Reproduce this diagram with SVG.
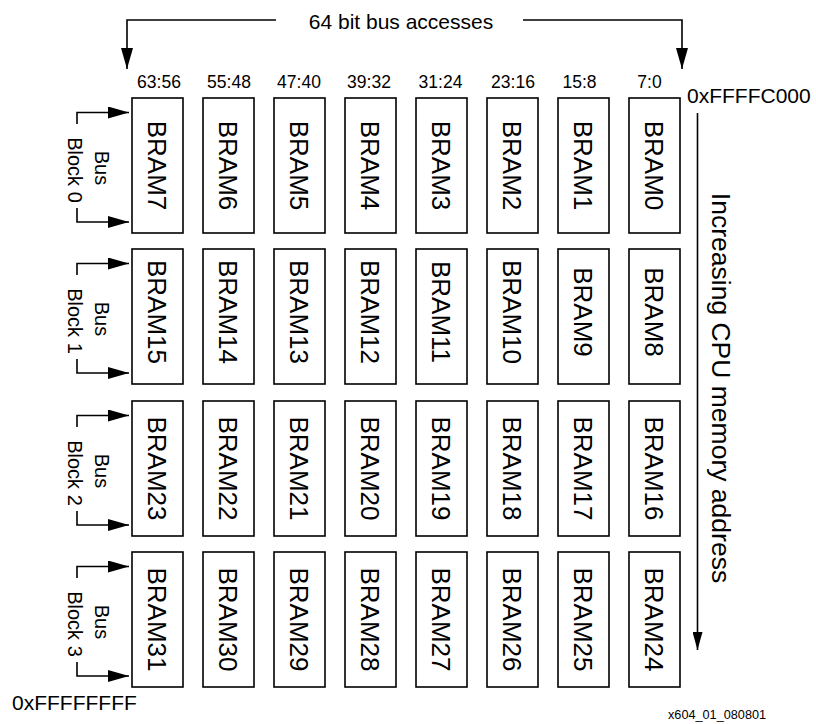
<svg xmlns="http://www.w3.org/2000/svg" width="816" height="724" viewBox="0 0 816 724">
<style>
.box{fill:#fff;stroke:#000;stroke-width:1.6}
.bl{font-family:"Liberation Sans",Arial,sans-serif;font-size:26px;fill:#000;text-anchor:middle}
.col{font-family:"Liberation Sans",Arial,sans-serif;font-size:17.5px;fill:#000;text-anchor:middle}
.t{font-family:"Liberation Sans",Arial,sans-serif;fill:#000}
.bus{font-family:"Liberation Sans",Arial,sans-serif;font-size:20px;fill:#000;text-anchor:middle}
.ln{fill:none;stroke:#000;stroke-width:1.6}
</style>
<defs>
<marker id="ah" viewBox="0 0 21 12" refX="21" refY="6" markerWidth="21" markerHeight="12" markerUnits="userSpaceOnUse" orient="auto"><path d="M0,0 L21,6 L0,12 z" fill="#000"/></marker>
<marker id="ah2" viewBox="0 0 18 10" refX="18" refY="5" markerWidth="18" markerHeight="10" markerUnits="userSpaceOnUse" orient="auto"><path d="M0,0 L18,5 L0,10 z" fill="#000"/></marker>
</defs>
<rect width="816" height="724" fill="#fff"/>

<g id="labels">
<text class="t" x="401" y="29" font-size="21" text-anchor="middle">64 bit bus accesses</text>
<text class="col" x="159" y="88">63:56</text>
<text class="col" x="229" y="88">55:48</text>
<text class="col" x="299" y="88">47:40</text>
<text class="col" x="369" y="88">39:32</text>
<text class="col" x="440.5" y="88">31:24</text>
<text class="col" x="513" y="88">23:16</text>
<text class="col" x="579.5" y="88">15:8</text>
<text class="col" x="649.5" y="88">7:0</text>
<text class="t" x="687" y="103" font-size="21">0xFFFFC000</text>
<text class="t" x="12" y="710" font-size="21">0xFFFFFFFF</text>
<text class="t" font-size="26.5" text-anchor="middle" transform="translate(711.5,388) rotate(90)">Increasing CPU memory address</text>
<text class="t" x="668" y="719" font-size="12.7">x604_01_080801</text>
</g>

<g id="connectors">
<path class="ln" d="M276,20 H127 V69" marker-end="url(#ah)"/>
<path class="ln" d="M523,20 H682 V69" marker-end="url(#ah)"/>
<path class="ln" d="M697.5,113 V650" marker-end="url(#ah2)"/>
<g id="bb0-arrows">
<path class="ln" d="M77,124 V112.5 H129" marker-end="url(#ah)"/>
<path class="ln" d="M77,208 V222 H129" marker-end="url(#ah)"/>
</g>
<g id="bb1-arrows">
<path class="ln" d="M77,275 V263.5 H129" marker-end="url(#ah)"/>
<path class="ln" d="M77,359 V373 H129" marker-end="url(#ah)"/>
</g>
<g id="bb2-arrows">
<path class="ln" d="M77,427 V415.5 H129" marker-end="url(#ah)"/>
<path class="ln" d="M77,511 V525 H129" marker-end="url(#ah)"/>
</g>
<g id="bb3-arrows">
<path class="ln" d="M77,578 V566.5 H129" marker-end="url(#ah)"/>
<path class="ln" d="M77,662 V676 H129" marker-end="url(#ah)"/>
</g>
</g>

<g id="busblocks">
<g id="bb0"><text class="bus" transform="translate(95,168) rotate(90)">Bus</text><text class="bus" transform="translate(68,170) rotate(90)">Block 0</text></g>
<g id="bb1"><text class="bus" transform="translate(95,319) rotate(90)">Bus</text><text class="bus" transform="translate(68,321) rotate(90)">Block 1</text></g>
<g id="bb2"><text class="bus" transform="translate(95,471) rotate(90)">Bus</text><text class="bus" transform="translate(68,473) rotate(90)">Block 2</text></g>
<g id="bb3"><text class="bus" transform="translate(95,622) rotate(90)">Bus</text><text class="bus" transform="translate(68,624) rotate(90)">Block 3</text></g>
</g>

<g id="brams">
<g id="bram7"><rect class="box" x="132" y="98" width="51" height="135"/><text class="bl" transform="translate(148.2,165.5) rotate(90)">BRAM7</text></g>
<g id="bram6"><rect class="box" x="203" y="98" width="51" height="135"/><text class="bl" transform="translate(219.2,165.5) rotate(90)">BRAM6</text></g>
<g id="bram5"><rect class="box" x="274" y="98" width="51" height="135"/><text class="bl" transform="translate(290.2,165.5) rotate(90)">BRAM5</text></g>
<g id="bram4"><rect class="box" x="345" y="98" width="51" height="135"/><text class="bl" transform="translate(361.2,165.5) rotate(90)">BRAM4</text></g>
<g id="bram3"><rect class="box" x="416" y="98" width="51" height="135"/><text class="bl" transform="translate(432.2,165.5) rotate(90)">BRAM3</text></g>
<g id="bram2"><rect class="box" x="487" y="98" width="51" height="135"/><text class="bl" transform="translate(503.2,165.5) rotate(90)">BRAM2</text></g>
<g id="bram1"><rect class="box" x="558" y="98" width="51" height="135"/><text class="bl" transform="translate(574.2,165.5) rotate(90)">BRAM1</text></g>
<g id="bram0"><rect class="box" x="629" y="98" width="51" height="135"/><text class="bl" transform="translate(645.2,165.5) rotate(90)">BRAM0</text></g>

<g id="bram15"><rect class="box" x="132" y="249" width="51" height="135"/><text class="bl" transform="translate(148.2,312) rotate(90)">BRAM15</text></g>
<g id="bram14"><rect class="box" x="203" y="249" width="51" height="135"/><text class="bl" transform="translate(219.2,312) rotate(90)">BRAM14</text></g>
<g id="bram13"><rect class="box" x="274" y="249" width="51" height="135"/><text class="bl" transform="translate(290.2,312) rotate(90)">BRAM13</text></g>
<g id="bram12"><rect class="box" x="345" y="249" width="51" height="135"/><text class="bl" transform="translate(361.2,312) rotate(90)">BRAM12</text></g>
<g id="bram11"><rect class="box" x="416" y="249" width="51" height="135"/><text class="bl" transform="translate(432.2,312) rotate(90)">BRAM11</text></g>
<g id="bram10"><rect class="box" x="487" y="249" width="51" height="135"/><text class="bl" transform="translate(503.2,312) rotate(90)">BRAM10</text></g>
<g id="bram9"><rect class="box" x="558" y="249" width="51" height="135"/><text class="bl" transform="translate(574.2,312) rotate(90)">BRAM9</text></g>
<g id="bram8"><rect class="box" x="629" y="249" width="51" height="135"/><text class="bl" transform="translate(645.2,312) rotate(90)">BRAM8</text></g>

<g id="bram23"><rect class="box" x="132" y="401" width="51" height="135"/><text class="bl" transform="translate(148.2,468.5) rotate(90)">BRAM23</text></g>
<g id="bram22"><rect class="box" x="203" y="401" width="51" height="135"/><text class="bl" transform="translate(219.2,468.5) rotate(90)">BRAM22</text></g>
<g id="bram21"><rect class="box" x="274" y="401" width="51" height="135"/><text class="bl" transform="translate(290.2,468.5) rotate(90)">BRAM21</text></g>
<g id="bram20"><rect class="box" x="345" y="401" width="51" height="135"/><text class="bl" transform="translate(361.2,468.5) rotate(90)">BRAM20</text></g>
<g id="bram19"><rect class="box" x="416" y="401" width="51" height="135"/><text class="bl" transform="translate(432.2,468.5) rotate(90)">BRAM19</text></g>
<g id="bram18"><rect class="box" x="487" y="401" width="51" height="135"/><text class="bl" transform="translate(503.2,468.5) rotate(90)">BRAM18</text></g>
<g id="bram17"><rect class="box" x="558" y="401" width="51" height="135"/><text class="bl" transform="translate(574.2,468.5) rotate(90)">BRAM17</text></g>
<g id="bram16"><rect class="box" x="629" y="401" width="51" height="135"/><text class="bl" transform="translate(645.2,468.5) rotate(90)">BRAM16</text></g>

<g id="bram31"><rect class="box" x="132" y="552" width="51" height="135"/><text class="bl" transform="translate(148.2,619.5) rotate(90)">BRAM31</text></g>
<g id="bram30"><rect class="box" x="203" y="552" width="51" height="135"/><text class="bl" transform="translate(219.2,619.5) rotate(90)">BRAM30</text></g>
<g id="bram29"><rect class="box" x="274" y="552" width="51" height="135"/><text class="bl" transform="translate(290.2,619.5) rotate(90)">BRAM29</text></g>
<g id="bram28"><rect class="box" x="345" y="552" width="51" height="135"/><text class="bl" transform="translate(361.2,619.5) rotate(90)">BRAM28</text></g>
<g id="bram27"><rect class="box" x="416" y="552" width="51" height="135"/><text class="bl" transform="translate(432.2,619.5) rotate(90)">BRAM27</text></g>
<g id="bram26"><rect class="box" x="487" y="552" width="51" height="135"/><text class="bl" transform="translate(503.2,619.5) rotate(90)">BRAM26</text></g>
<g id="bram25"><rect class="box" x="558" y="552" width="51" height="135"/><text class="bl" transform="translate(574.2,619.5) rotate(90)">BRAM25</text></g>
<g id="bram24"><rect class="box" x="629" y="552" width="51" height="135"/><text class="bl" transform="translate(645.2,619.5) rotate(90)">BRAM24</text></g>
</g>
</svg>
